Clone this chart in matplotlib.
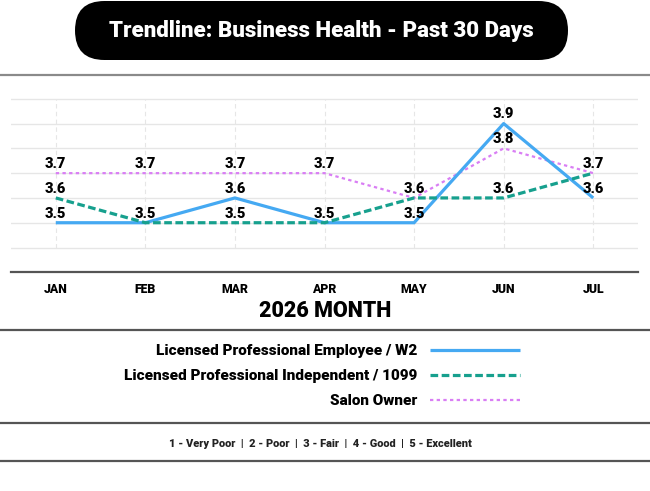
import matplotlib.pyplot as plt
from matplotlib.patches import FancyBboxPatch

months = ["JAN", "FEB", "MAR", "APR", "MAY", "JUN", "JUL"]
w2 = [3.5, 3.5, 3.6, 3.5, 3.5, 3.9, 3.6]
independent = [3.6, 3.5, 3.5, 3.5, 3.6, 3.6, 3.7]
salon_owner = [3.7, 3.7, 3.7, 3.7, 3.6, 3.8, 3.7]
series_names = ["Licensed Professional Employee / W2",
                "Licensed Professional Independent / 1099",
                "Salon Owner"]

FONT = ["Roboto", "DejaVu Sans"]
WEIGHT = "heavy"
plt.rcParams["font.family"] = FONT
plt.rcParams["font.weight"] = WEIGHT

W, H = 650, 491
fig = plt.figure(figsize=(W / 100, H / 100), dpi=100)

# background layer in pixel units (y goes down)
bg = fig.add_axes([0, 0, 1, 1], zorder=0)
bg.set_xlim(0, W)
bg.set_ylim(H, 0)
bg.axis("off")

box = FancyBboxPatch((75, 1), 493, 59, boxstyle="round,pad=0,rounding_size=29.5",
                     facecolor="black", edgecolor="none")
bg.add_patch(box)
bg.text(321.5, 30.5, "Trendline: Business Health - Past 30 Days", color="white",
        fontsize=16, fontweight=WEIGHT, ha="center", va="center")

bg.plot([0, W], [75, 75], color="#8a8a8a", lw=1.6)
bg.plot([0, W], [330, 330], color="#555555", lw=1.6)
bg.plot([0, W], [422.5, 422.5], color="#555555", lw=1.6)
bg.plot([0, W], [460.5, 460.5], color="#555555", lw=1.6)

bg.text(325, 311, "2026 MONTH", fontsize=15.5, fontweight=WEIGHT, ha="center", va="center")
bg.text(320.5, 444, "1 - Very Poor  |  2 - Poor  |  3 - Fair  |  4 - Good  |  5 - Excellent",
        fontsize=7.9, fontweight=WEIGHT, ha="center", va="center", color="#222222")

# main chart
ax = fig.add_axes([11 / W, 1 - 272.3 / H, 627 / W, (272.3 - 74) / H], zorder=1)
ax.patch.set_alpha(0)
x = list(range(len(months)))

for yv in [3.4, 3.5, 3.6, 3.7, 3.8, 3.9, 4.0]:
    ax.axhline(yv, color="#e6e6e6", lw=1, zorder=0)
ax.vlines(x, 3.4, 4.0, colors="#e6e6e6", linestyles=(0, (4, 3)), lw=0.8, zorder=0)

l3, = ax.plot(x, salon_owner, color="#d97ef4", lw=1.6, linestyle=(0, (1.5, 1.5)), zorder=2)
l1, = ax.plot(x, w2, color="#45a9f2", lw=2.3, solid_capstyle="butt", zorder=3)
l2, = ax.plot(x, independent, color="#17a08e", lw=2.3, linestyle=(0, (2.4, 1.1)), zorder=4)

for i in x:
    for v in sorted(set([w2[i], independent[i], salon_owner[i]])):
        ax.annotate(f"{v:.1f}", (i, v), xytext=(0, 6.6), textcoords="offset points",
                    ha="center", va="center", fontsize=10.5, fontweight=WEIGHT, zorder=5)

ax.set_xlim(-0.5, 6.5)
ax.set_ylim(3.3, 4.1)
ax.set_xticks(x)
ax.set_xticklabels(months, fontsize=8.8, fontweight=WEIGHT)
ax.tick_params(axis="x", length=0, pad=8)
ax.set_yticks([])
for s in ["top", "left", "right"]:
    ax.spines[s].set_visible(False)
ax.spines["bottom"].set_color("#555555")
ax.spines["bottom"].set_linewidth(1.6)

fig.legend([l1, l2, l3], series_names, loc="upper right",
           bbox_to_anchor=(520 / W, 1 - 344 / H), frameon=False, markerfirst=False,
           alignment="right", handlelength=5.9, handletextpad=0.8, labelspacing=0.72,
           borderpad=0, borderaxespad=0, prop={"family": FONT, "weight": WEIGHT, "size": 11})

fig.savefig("out.png", dpi=100)
